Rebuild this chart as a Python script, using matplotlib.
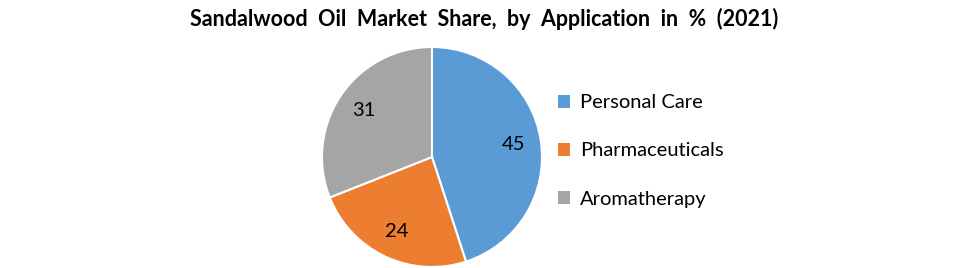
import matplotlib.pyplot as plt
from matplotlib.patches import Patch

title = "Sandalwood  Oil  Market  Share,  by  Application  in  %  (2021)"
categories = ["Personal Care", "Pharmaceuticals", "Aromatherapy"]
shares = [45, 24, 31]
colors = ["#5B9BD5", "#ED7D31", "#A5A5A5"]

plt.rcParams["font.family"] = ["Lato", "DejaVu Sans"]

fig = plt.figure(figsize=(9.75, 2.68), dpi=100)
W, H = 975, 268
cx, cy, r = 432, 157, 110
ax = fig.add_axes([(cx - r) / W, (H - cy - r) / H, 2 * r / W, 2 * r / H])

wedges, _, autotexts = ax.pie(
    shares, colors=colors, startangle=90, counterclock=False,
    autopct=lambda p: f"{p:.0f}", pctdistance=0.75,
    wedgeprops=dict(edgecolor="white", linewidth=1.5),
    textprops=dict(fontsize=14.5, color="black"),
)
ax.set_xlim(-1, 1)
ax.set_ylim(-1, 1)
ax.set_aspect("equal")

fig.text(484 / W, 1 - 19 / H, title, ha="center", va="center",
         fontsize=15.5, fontweight="bold")

handles = [Patch(facecolor=c, edgecolor="none") for c in colors]
fig.legend(handles, categories, loc="center left",
           bbox_to_anchor=(540 / W, 1 - 151 / H), frameon=False,
           fontsize=14.5, handlelength=0.6, handleheight=0.6,
           handletextpad=0.5, labelspacing=1.55)

fig.savefig("out.png", dpi=100)
